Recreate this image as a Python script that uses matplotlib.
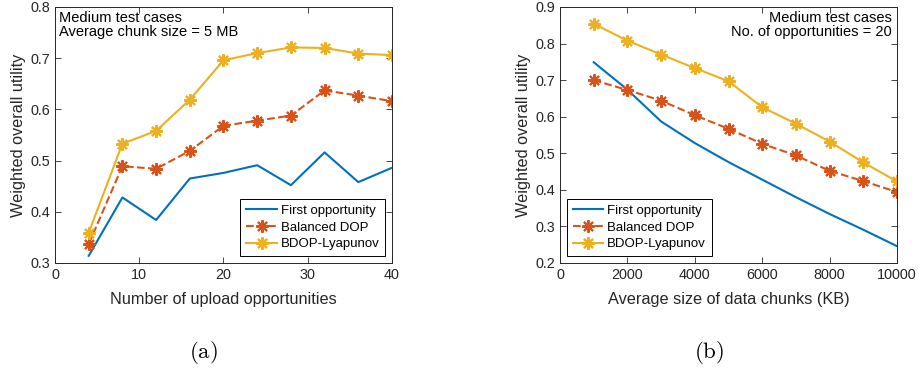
import numpy as np
import matplotlib.pyplot as plt

plt.rcParams['font.family'] = ['Liberation Sans', 'DejaVu Sans']
plt.rcParams['mathtext.fontset'] = 'cm'

# (a) utility vs number of upload opportunities
n_opp = [4, 8, 12, 16, 20, 24, 28, 32, 36, 40]
first_a = [0.314, 0.428, 0.384, 0.465, 0.476, 0.491, 0.452, 0.516, 0.458, 0.486]
balanced_a = [0.337, 0.489, 0.484, 0.519, 0.568, 0.578, 0.588, 0.637, 0.627, 0.616]
lyap_a = [0.359, 0.533, 0.558, 0.619, 0.696, 0.710, 0.721, 0.720, 0.709, 0.706]

# (b) utility vs average chunk size
chunk_kb = [1000, 2000, 3000, 4000, 5000, 6000, 7000, 8000, 9000, 10000]
first_b = [0.749, 0.674, 0.587, 0.528, 0.476, 0.428, 0.380, 0.334, 0.291, 0.246]
balanced_b = [0.700, 0.673, 0.644, 0.604, 0.567, 0.526, 0.494, 0.452, 0.424, 0.394]
lyap_b = [0.854, 0.808, 0.770, 0.733, 0.697, 0.626, 0.581, 0.532, 0.475, 0.423]

labels = ['First opportunity', 'Balanced DOP', 'BDOP-Lyapunov']
c_blue, c_red, c_yel = '#0072BD', '#D95319', '#EDB120'
ast = (8, 2, 0)
txt = '#262626'

fig = plt.figure(figsize=(9.2, 3.7), dpi=100)
ax1 = fig.add_axes([55/920, 1-263/370, 337/920, 256/370])
ax2 = fig.add_axes([560/920, 1-263/370, 337/920, 256/370])


def draw(ax, x, f, b, l):
    ax.plot(x, f, '-', color=c_blue, lw=1.5, label=labels[0])
    ax.plot(x, b, '--', color=c_red, lw=1.5, marker=ast, ms=9, mew=1.5,
            label=labels[1])
    ax.plot(x, l, '-', color=c_yel, lw=1.5, marker=ast, ms=9, mew=1.5,
            label=labels[2])
    ax.tick_params(direction='in', top=True, right=True, labelsize=10.4,
                   colors=txt, length=4, width=0.6)
    for s in ax.spines.values():
        s.set_color(txt)
        s.set_linewidth(0.7)
    ax.set_ylabel('Weighted overall utility', fontsize=11.7, color=txt, labelpad=3)


def legend(ax, loc):
    leg = ax.legend(loc=loc, fontsize=9.5, fancybox=False,
                    edgecolor='black', framealpha=1, borderpad=0.45,
                    handlelength=2.3, handletextpad=0.3, labelspacing=0.35,
                    borderaxespad=0.5)
    leg.get_frame().set_linewidth(0.7)


draw(ax1, n_opp, first_a, balanced_a, lyap_a)
ax1.set_xlim(0, 40)
ax1.set_ylim(0.3, 0.8)
ax1.set_xticks([0, 10, 20, 30, 40])
ax1.set_yticks(np.arange(0.3, 0.81, 0.1))
ax1.set_xlabel('Number of upload opportunities', fontsize=11.7, color=txt,
               labelpad=7)
ax1.text(0.012, 0.985, 'Medium test cases\nAverage chunk size = 5 MB',
         transform=ax1.transAxes, ha='left', va='top', fontsize=10.5,
         color='black', linespacing=1.0)
legend(ax1, 'lower right')

draw(ax2, chunk_kb, first_b, balanced_b, lyap_b)
ax2.set_xlim(0, 10000)
ax2.set_ylim(0.2, 0.9)
ax2.set_xticks([0, 2000, 4000, 6000, 8000, 10000])
ax2.set_yticks(np.arange(0.2, 0.91, 0.1))
ax2.set_xlabel('Average size of data chunks (KB)', fontsize=11.7, color=txt,
               labelpad=7)
ax2.text(0.985, 0.985, 'Medium test cases\nNo. of opportunities = 20',
         transform=ax2.transAxes, ha='right', va='top', fontsize=10.5,
         color='black', linespacing=1.0)
legend(ax2, 'lower left')

for ax in (ax1, ax2):
    ax.yaxis.set_major_formatter(plt.FuncFormatter(lambda v, p: '%g' % round(v, 1)))

fig.text(203/920, 1-352/370, r'$\mathrm{(a)}$', ha='center', va='center', fontsize=16.5)
fig.text(709/920, 1-352/370, r'$\mathrm{(b)}$', ha='center', va='center', fontsize=16.5)

fig.savefig('out.png', dpi=100)
